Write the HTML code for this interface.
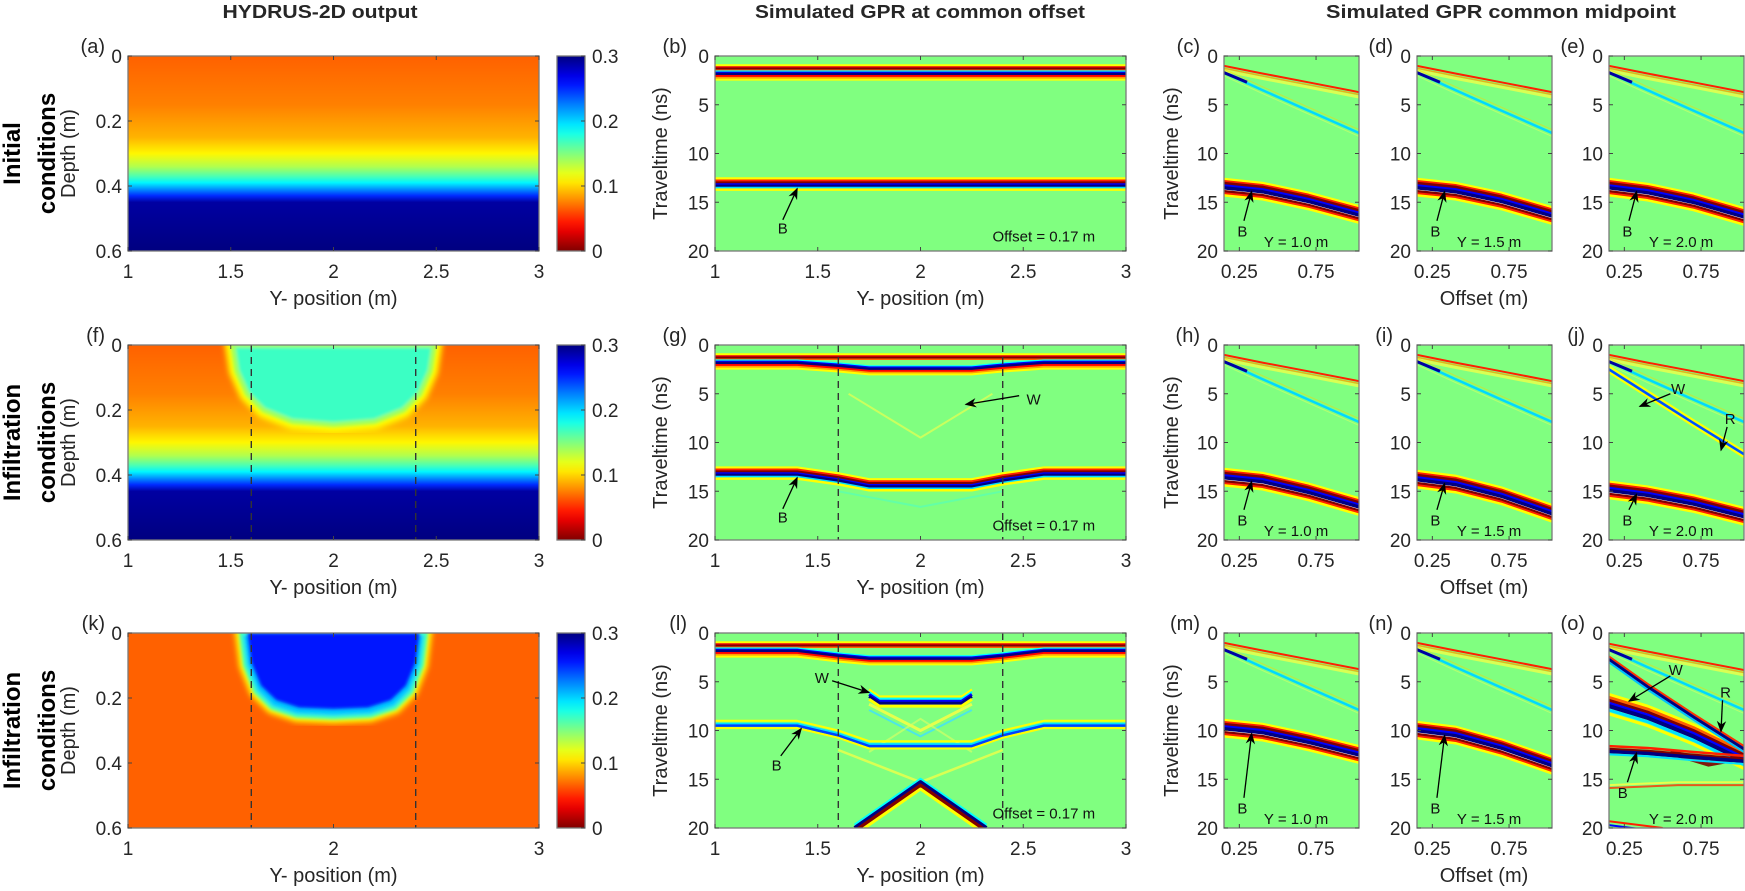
<!DOCTYPE html>
<html><head><meta charset="utf-8"><style>
html,body{margin:0;padding:0;background:#fff;}
svg{display:block;font-family:"Liberation Sans",Arial,sans-serif;}
</style></head><body>
<svg id="fig" width="1745" height="891" viewBox="0 0 1745 891" xmlns="http://www.w3.org/2000/svg">
<defs>
<marker id="ah" viewBox="0 0 10 10" refX="9" refY="5" markerWidth="9" markerHeight="9" orient="auto"><path d="M0,1 L10,5 L0,9 L3,5 Z" fill="#000"/></marker>
<filter id="blur3"><feGaussianBlur stdDeviation="3"/></filter>
<filter id="blur2"><feGaussianBlur stdDeviation="1.6"/></filter>
</defs>
</svg>
<script>
// ---------- data ----------
const depthStops=[0,0.15,0.25,0.3,0.34,0.37,0.39,0.41,0.43,0.45,0.6];
const thetaStops=[0.066,0.075,0.09,0.11,0.135,0.165,0.19,0.22,0.25,0.29,0.3];
const bulb2Y=[1.51,1.53,1.58,1.66,1.8,2.0,2.2,2.34,2.42,2.47,2.49];
const bulb2D=[0,0.08,0.15,0.2,0.235,0.245,0.235,0.2,0.15,0.08,0];
const bulb2Theta=0.17;
const bulb3Y=[1.55,1.57,1.62,1.7,1.82,2.0,2.18,2.3,2.38,2.43,2.45];
const bulb3D=[0,0.1,0.18,0.23,0.255,0.26,0.255,0.23,0.18,0.1,0];
const bulb3Theta=0.255;
const row3Theta=0.066;
const dashY=[1.6,2.4];
const bscanY=[1,1.4,1.6,1.75,2.25,2.4,2.6,3];
const gnd1=[1.7,1.7,1.7,1.7,1.7,1.7,1.7,1.7];
const refB1=[13.1,13.1,13.1,13.1,13.1,13.1,13.1,13.1];
const gnd2=[1.7,1.7,2.0,2.3,2.3,2.0,1.7,1.7];
const refB2=[13.1,13.1,13.7,14.3,14.3,13.7,13.1,13.1];
const gnd3=[1.7,1.7,2.2,2.5,2.5,2.2,1.7,1.7];
const refB3=[9.4,9.4,10.4,11.5,11.5,10.4,9.4,9.4];
const wetY3=[1.75,1.8,2.2,2.25];
const wetT3=[6.3,7.0,7.0,6.3];
const xLeftY=[1.68,2.0,2.32];
const xLeftT=[20,15.3,20];
const cmpOff=[0.15,0.4,0.7,1.03];
const airT=[1.1,1.9,2.8,3.8];
const gwT=[1.7,3.5,5.6,7.9];
const refC=[13.2,13.6,14.6,16.0];
const refD=[13.2,13.6,14.6,16.1];
const refE=[13.2,13.7,14.7,16.2];
const refH=[13.3,13.7,14.8,16.3];
const refI=[13.5,14.0,15.2,17.0];
const refJ=[14.6,15.1,16.0,17.3];
const steepJ=[2.5,5.0,8.0,11.2];
const refM=[9.5,9.9,10.9,12.2];
const refN=[9.7,10.2,11.5,13.3];
const refO=[12.0,12.2,12.6,13.0];
const steepO=[2.7,5.5,8.6,11.9];
const wetO=[7.2,8.4,10.3,12.8];
const yTicksA=[0,0.2,0.4,0.6];
const yTicksT=[0,5,10,15,20];
const xTicksY=[1,1.5,2,2.5,3];
const xTicksY3=[1,2,3];
const xTicksOff=[0.25,0.75];
const cbTicks=[0,0.1,0.2,0.3];

// ---------- helpers ----------
const NS='http://www.w3.org/2000/svg';
const svg=document.getElementById('fig');
function mk(tag,attrs,name,parent){
  const el=document.createElementNS(NS,tag);
  for(const k in attrs) el.setAttribute(k,attrs[k]);
  
  
  (parent||svg).appendChild(el); return el;
}
function txt(x,y,s,name,o){o=o||{};
  const a={x:x,y:y,'font-size':o.fs||19,fill:o.fill||'#262626','text-anchor':o.anchor||'middle'};
  if(o.bold)a['font-weight']='bold';
  if(o.rot)a.transform='rotate(-90 '+x+' '+y+')';
  if(o.tl){a.textLength=o.tl;a.lengthAdjust='spacingAndGlyphs';}
  const t=mk('text',a,name); t.textContent=s; return t;}
function clamp(v){return Math.max(0,Math.min(1,v));}
function jet(t){const r=clamp(1.5-Math.abs(4*t-3)),g=clamp(1.5-Math.abs(4*t-2)),b=clamp(1.5-Math.abs(4*t-1));
  return 'rgb('+Math.round(r*255)+','+Math.round(g*255)+','+Math.round(b*255)+')';}
function thetaColor(v){return jet(1-v/0.3);}
let clipN=0;
function panel(x,y,w,h,xmin,xmax,ymin,ymax,name){
  const p={x:x,y:y,w:w,h:h,sx:v=>x+(v-xmin)/(xmax-xmin)*w,sy:v=>y+(v-ymin)/(ymax-ymin)*h};
  const id='clip'+(clipN++);
  const cp=mk('clipPath',{id:id},name+'-clip');
  mk('rect',{x:x,y:y,width:w,height:h},name+'-clip-rect',cp);
  p.g=mk('g',{'clip-path':'url(#'+id+')'},name);
  return p;}
function frame(p,xt,yt,name){
  mk('rect',{x:p.x,y:p.y,width:p.w,height:p.h,fill:'none',stroke:'#7a7a7a','stroke-width':1.3},name+'-frame');
  xt.forEach(v=>{const X=p.sx(v);
    mk('line',{x1:X,x2:X,y1:p.y+p.h,y2:p.y+p.h-4,stroke:'#444'},name+'-xtick');
    mk('line',{x1:X,x2:X,y1:p.y,y2:p.y+4,stroke:'#444'},name+'-xtick-top');});
  yt.forEach(v=>{const Y=p.sy(v);
    mk('line',{x1:p.x,x2:p.x+4,y1:Y,y2:Y,stroke:'#444'},name+'-ytick');
    mk('line',{x1:p.x+p.w,x2:p.x+p.w-4,y1:Y,y2:Y,stroke:'#444'},name+'-ytick-right');});
}
function tickLabels(p,xt,yt,name,xfmt){
  xt.forEach(v=>txt(p.sx(v),p.y+p.h+27,xfmt?xfmt(v):String(v),name+'-xtick-label'));
  yt.forEach(v=>txt(p.x-6,p.sy(v)+7,String(v),name+'-ytick-label',{anchor:'end'}));
}
function pts(p,xs,ts,dt){return xs.map((x,i)=>p.sx(x).toFixed(1)+','+p.sy(ts[i]+dt).toFixed(1)).join(' ');}
function event(p,xs,ts,layers,name,op){
  layers.forEach(L=>{mk('polyline',{points:pts(p,xs,ts,L[0]),fill:'none',stroke:L[1],'stroke-width':L[2],'stroke-linejoin':'round',opacity:op||(L[3]||1)},name,p.g);});
}
function arrow(p,x1,t1,x2,t2,name){
  mk('line',{x1:p.sx(x1),y1:p.sy(t1),x2:p.sx(x2),y2:p.sy(t2),stroke:'#000','stroke-width':1.3,'marker-end':'url(#ah)'},name);
}
function note(p,x,t,s,name){txt(p.sx(x),p.sy(t)+5,s,name,{fs:15,fill:'#111'});}

const WREF=[[-0.5,'#ffff00',3],[-0.3,'#ff2000',2.5],[-0.12,'#800000',2.5],[0.08,'#0000ff',2.5],[0.24,'#000080',3],[0.42,'#00e0ff',2],[0.6,'#ffff00',2.5]];
const WREFC=[[-0.55,'#ffff00',3],[-0.35,'#ff2000',2.5],[-0.15,'#800000',3],[0.1,'#0000ff',3],[0.33,'#000080',3.5],[0.55,'#ffffff',1],[0.7,'#800000',3],[0.9,'#ff2000',2.5],[1.1,'#ffff00',2.5]];
const WAIR=[[-0.2,'#ffff00',2],[0,'#ff0000',2],[0.15,'#800000',2.5],[0.32,'#ff6000',1.5]];
const WGND=[[-0.15,'#00ffff',1.5],[0,'#0000ff',2],[0.17,'#000080',3],[0.38,'#ff0000',2.5],[0.55,'#ffa000',2],[0.72,'#ffff00',2]];
const WAIRC=[[-0.1,'#ff2000',2],[0.15,'#ffa000',1.5,0.8],[0.4,'#ffff40',3,0.7]];
const WGNDC=[[-0.35,'#ffd000',1,0.5],[0,'#00d8ff',2.5],[0.35,'#e8ff60',1,0.5]];

const cols={a:{x:128,w:411},b:{x:715,w:411},c:{x:1224,w:135},d:{x:1417,w:135},e:{x:1609,w:135}};
const rowTop=[56,345,633], H=195;
const letters=[['a','b','c','d','e'],['f','g','h','i','j'],['k','l','m','n','o']];

// ---------- titles ----------
txt(320,18,'HYDRUS-2D output','title-hydrus',{bold:true,fs:18,tl:195});
txt(920,18,'Simulated GPR at common offset','title-common-offset',{bold:true,fs:18,tl:330});
txt(1501,18,'Simulated GPR common midpoint','title-cmp',{bold:true,fs:18,tl:350});
const rowLab=[['Initial','conditions'],['Infiltration','conditions'],['Infiltration','conditions']];
rowLab.forEach((r,i)=>{const cy=rowTop[i]+H/2;
  txt(20,cy,r[0],'row-label-'+(i+1)+'-line1',{bold:true,fs:24,rot:true,fill:'#000'});
  txt(55,cy,r[1],'row-label-'+(i+1)+'-line2',{bold:true,fs:24,rot:true,fill:'#000'});});

// ---------- HYDRUS panels ----------
const lg=mk('linearGradient',{id:'soil',x1:0,y1:0,x2:0,y2:1},'soil-gradient',svg.querySelector('defs'));
depthStops.forEach((d,i)=>mk('stop',{offset:d/0.6,'stop-color':thetaColor(thetaStops[i])},'soil-stop',lg));
const cg=mk('linearGradient',{id:'cbar',x1:0,y1:1,x2:0,y2:0},'colorbar-gradient',svg.querySelector('defs'));
for(let i=0;i<=20;i++){mk('stop',{offset:i/20,'stop-color':thetaColor(0.3*i/20)},'cbar-stop',cg);}
function bulbPath(p,ys,ds){return 'M'+ys.map((y,i)=>p.sx(y).toFixed(1)+','+p.sy(ds[i]).toFixed(1)).join(' L')+' Z';}
for(let r=0;r<3;r++){
  const y0=rowTop[r], nm='panel-'+letters[r][0];
  const p=panel(cols.a.x,y0,cols.a.w,H,1,3,0,0.6,nm);
  if(r<2) mk('rect',{x:p.x,y:p.y,width:p.w,height:p.h,fill:'url(#soil)'},'soil-profile',p.g);
  else mk('rect',{x:p.x,y:p.y,width:p.w,height:p.h,fill:thetaColor(row3Theta)},'soil-profile',p.g);
  if(r==1){
    mk('path',{d:bulbPath(p,bulb2Y,bulb2D),fill:'none',stroke:'#ffff00','stroke-width':16,filter:'url(#blur3)'},'wetting-front-halo',p.g);
    mk('path',{d:bulbPath(p,bulb2Y,bulb2D),fill:thetaColor(bulb2Theta),stroke:'#a0ff60','stroke-width':5,filter:'url(#blur2)'},'wetting-bulb',p.g);
  }
  if(r==2){
    mk('path',{d:bulbPath(p,bulb3Y,bulb3D),fill:'none',stroke:'#ffff00','stroke-width':12,filter:'url(#blur3)'},'wetting-front-halo',p.g);
    mk('path',{d:bulbPath(p,bulb3Y,bulb3D),fill:'#00c8ff',stroke:'#40ffc0','stroke-width':4,filter:'url(#blur2)'},'wetting-front-edge',p.g);
    const ys2=bulb3Y.map(v=>2+(v-2)*0.93), ds2=bulb3D.map(v=>v*0.9);
    mk('path',{d:bulbPath(p,ys2,ds2),fill:thetaColor(bulb3Theta),filter:'url(#blur2)'},'wetting-bulb',p.g);
  }
  if(r>0) dashY.forEach(v=>mk('line',{x1:p.sx(v),x2:p.sx(v),y1:p.y,y2:p.y+p.h,stroke:'#333','stroke-width':1.4,'stroke-dasharray':'7,5'},'infiltration-boundary',p.g));
  const xt=r==2?xTicksY3:xTicksY;
  frame(p,xt,yTicksA,nm); tickLabels(p,xt,yTicksA,nm);
  txt(75,y0+H/2,'Depth (m)','depth-axis-title',{rot:true,fs:20});
  txt(p.x+p.w/2,y0+H+54,'Y- position (m)','y-position-axis-title',{fs:20});
  txt(p.x-23,y0-3,'('+letters[r][0]+')','panel-letter-'+letters[r][0],{anchor:'end',fs:20});
  // colorbar
  mk('rect',{x:557,y:y0,width:28,height:H,fill:'url(#cbar)',stroke:'#7a7a7a','stroke-width':1.3},'colorbar');
  cbTicks.forEach(v=>{const Y=y0+H-(v/0.3)*H;
    mk('line',{x1:581,x2:585,y1:Y,y2:Y,stroke:'#444'},'colorbar-tick');
    txt(592,Y+7,String(v),'colorbar-tick-label',{anchor:'start'});});
}

// ---------- common offset B-scans ----------
const bsets=[[gnd1,refB1],[gnd2,refB2],[gnd3,refB3]];
for(let r=0;r<3;r++){
  const y0=rowTop[r], nm='panel-'+letters[r][1];
  const p=panel(cols.b.x,y0,cols.b.w,H,1,3,0,20,nm);
  mk('rect',{x:p.x,y:p.y,width:p.w,height:p.h,fill:'#80ff80'},'background',p.g);
  if(r==1){
    event(p,[1.65,2.0,2.35],[5,9.5,5],[[0,'#e8ff50',2]],'diffraction',0.7);
    event(p,[1.6,2.0,2.4],[15,16.6,15],[[0,'#50ffc0',2]],'diffraction',0.6);
  }
  if(r==2){
    event(p,[1.75,2.0,2.25],[7.3,10,7.3],[[0,'#ffff40',3],[0.6,'#40e0ff',2]],'diffraction',0.8);
    event(p,[1.75,2.0,2.25],[12.2,8.8,12.2],[[0,'#e0ff60',2]],'diffraction',0.6);
    event(p,[1.6,2.0,2.4],[12,15.3,12],[[0,'#ffff40',2.5]],'diffraction',0.7);
    event(p,xLeftY,xLeftT,[[-0.3,'#00ffff',3],[0,'#000080',4],[0.35,'#800000',4],[0.7,'#ffff00',3]],'diffraction-x');
    event(p,wetY3,wetT3,[[-0.5,'#ffff00',2],[-0.25,'#00ffff',2],[0,'#0000ff',3],[0.2,'#000080',3],[0.5,'#ffff00',3]],'wetting-front-reflection');
  }
  event(p,bscanY,bscanY.map(()=>1.15),WAIR,'air-wave');
  event(p,bscanY,bsets[r][0],WGND,'ground-wave');
  event(p,bscanY,bsets[r][1],r==2?[[-0.4,'#ffff00',2],[-0.1,'#00e0ff',2],[0.1,'#0040ff',2.5],[0.35,'#ffff00',2]]:WREF,'bottom-reflection');
  if(r>0) dashY.forEach(v=>mk('line',{x1:p.sx(v),x2:p.sx(v),y1:p.y,y2:p.y+p.h,stroke:'#333','stroke-width':1.4,'stroke-dasharray':'7,5'},'infiltration-boundary',p.g));
  frame(p,xTicksY,yTicksT,nm); tickLabels(p,xTicksY,yTicksT,nm);
  txt(667,y0+H/2,'Traveltime (ns)','traveltime-axis-title',{rot:true,fs:20});
  txt(p.x+p.w/2,y0+H+54,'Y- position (m)','y-position-axis-title',{fs:20});
  txt(p.x-28,y0-3,'('+letters[r][1]+')','panel-letter-'+letters[r][1],{anchor:'end',fs:20});
  note(p,2.6,18.5,'Offset = 0.17 m','offset-annotation');
  if(r<2){note(p,1.33,17.7,'B','label-b');arrow(p,1.33,16.8,1.4,13.6,'arrow-b');}
  if(r==1){note(p,2.55,5.6,'W','label-w');arrow(p,2.48,5.2,2.22,6.1,'arrow-w');}
  if(r==2){note(p,1.52,4.6,'W','label-w');arrow(p,1.57,4.9,1.75,6.1,'arrow-w');
    note(p,1.3,13.6,'B','label-b');arrow(p,1.32,12.6,1.42,9.8,'arrow-b');}
}

// ---------- CMP panels ----------
const cmpRefs=[[refC,refD,refE],[refH,refI,refJ],[refM,refN,refO]];
const cmpY=['Y = 1.0 m','Y = 1.5 m','Y = 2.0 m'];
['c','d','e'].forEach((ck,ci)=>{
  for(let r=0;r<3;r++){
    const y0=rowTop[r], L=letters[r][ci+2], nm='panel-'+L;
    const p=panel(cols[ck].x,y0,cols[ck].w,H,0.15,1.03,0,20,nm);
    mk('rect',{x:p.x,y:p.y,width:p.w,height:p.h,fill:'#80ff80'},'background',p.g);
    const air=(r==2&&ci==2)?airT.map(v=>v+0.1):airT;
    event(p,cmpOff,air,WAIRC,'air-wave');
    event(p,cmpOff,gwT,WGNDC,'ground-wave');
    event(p,[0.15,0.3],[1.7,2.7],[[0,'#0000a0',3]],'ground-wave-start');
    if(r==1&&ci==2){event(p,cmpOff,steepJ,[[-0.3,'#ffff00',2],[0,'#0050ff',2.5],[0.3,'#ffff00',2]],'wetting-front-reflection');}
    if(r==2&&ci==2){
      event(p,cmpOff,wetO,[[-0.9,'#ffff00',3],[-0.6,'#ff6000',3],[-0.3,'#800000',3],[0,'#0000ff',3],[0.3,'#000080',4],[0.7,'#00e0ff',3],[1.1,'#ffff00',3]],'wetting-front-reflection');
      event(p,cmpOff,steepO,[[-0.3,'#ff3000',2],[0,'#000080',3],[0.3,'#00c0ff',2]],'steep-reflection');
      event(p,[0.15,0.6,1.03],[15.6,15.3,15.3],[[0,'#ffff40',2],[0.3,'#ff3000',2]],'multiple',0.8);
      event(p,[0.15,0.5],[19.7,20.4],[[0,'#0000ff',2],[-0.4,'#ff2000',2]],'multiple');
      event(p,[0.55,0.8,1.0],[12.2,13.4,12.8],[[0,'#800000',6]],'interference-blob',0.9);
    }
    event(p,cmpOff,cmpRefs[r][ci],(r==2&&ci==2)?[[-0.4,'#ff2000',2.5],[-0.1,'#800000',2.5],[0.15,'#000080',3.5],[0.45,'#00e0ff',2]]:WREFC,'bottom-reflection');
    frame(p,xTicksOff,yTicksT,nm); tickLabels(p,xTicksOff,yTicksT,nm);
    txt(p.x-24,y0-3,'('+L+')','panel-letter-'+L,{anchor:'end',fs:20});
    note(p,0.62,19.1,cmpY[ci],'y-position-annotation');
    if(r<2||ci<2){note(p,0.27,18.0,'B','label-b');arrow(p,0.28,16.9,0.33,(r==2?cmpRefs[r][ci][0]+0.8:cmpRefs[r][ci][0]+0.7),'arrow-b');}
    else{note(p,0.24,16.4,'B','label-b');arrow(p,0.27,15.3,0.33,12.3,'arrow-b');
      note(p,0.585,3.8,'W','label-w');arrow(p,0.55,4.4,0.28,7.0,'arrow-w');
      note(p,0.91,6.1,'R','label-r');arrow(p,0.89,6.9,0.88,10.1,'arrow-r');}
    if(r==1&&ci==2){note(p,0.6,4.5,'W','label-w');arrow(p,0.55,5.0,0.35,6.3,'arrow-w');
      note(p,0.94,7.6,'R','label-r');arrow(p,0.92,8.4,0.88,10.8,'arrow-r');}
    if(ci==0) txt(1178,y0+H/2,'Traveltime (ns)','traveltime-axis-title',{rot:true,fs:20});
    if(ci==1) txt(1484,y0+H+54,'Offset (m)','offset-axis-title',{fs:20});
  }
});
</script>
</body></html>
